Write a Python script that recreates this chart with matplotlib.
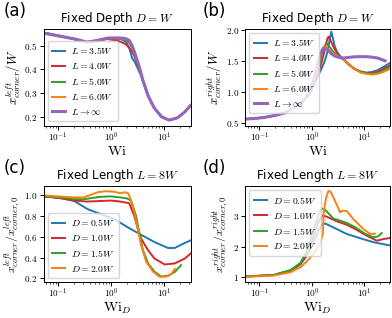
import numpy as np
import matplotlib
matplotlib.use("Agg")
import matplotlib.pyplot as plt
from matplotlib.ticker import FuncFormatter, FixedLocator, LogLocator

plt.rcParams['mathtext.fontset'] = 'cm'
plt.rcParams['font.family'] = ['DejaVu Sans']

# ---------------- data: panel (a) ----------------
wi_a = [0.053, 0.08, 0.12, 0.2, 0.35, 0.55, 0.85, 1.3, 1.6, 1.9, 2.2, 2.5, 2.8, 3.2, 3.6, 4.0,
        5.0, 6.5, 9.0, 12.5, 18.0, 25.0, 31.6]
a_L35 = [0.556, 0.548, 0.540, 0.528, 0.516, 0.521, 0.530, 0.530, 0.526, 0.517, 0.490, 0.447, 0.432,
         0.403, 0.378, 0.350, 0.289, 0.238, 0.200, 0.186, 0.196, 0.222, 0.248]
a_L40 = [0.555, 0.547, 0.539, 0.528, 0.515, 0.521, 0.528, 0.522, 0.514, 0.506, 0.492, 0.475, 0.452,
         0.415, 0.385, 0.350, 0.289, 0.238, 0.200, 0.186, 0.196, 0.222, 0.248]
a_L50 = [0.554, 0.546, 0.538, 0.529, 0.515, 0.522, 0.532, 0.531, 0.528, 0.522, 0.512, 0.490, 0.463,
         0.425, 0.390, 0.352, 0.289, 0.238, 0.200, 0.186, 0.196, 0.222, 0.248]
a_L60 = [0.554, 0.546, 0.538, 0.529, 0.515, 0.522, 0.532, 0.532, 0.531, 0.528, 0.520, 0.497, 0.468,
         0.428, 0.391, 0.353, 0.289, 0.238, 0.200, 0.186, 0.196, 0.222, 0.248]
a_Linf = [0.553, 0.545, 0.538, 0.529, 0.515, 0.522, 0.532, 0.533, 0.532, 0.530, 0.522, 0.500, 0.470,
          0.430, 0.392, 0.353, 0.289, 0.238, 0.200, 0.186, 0.196, 0.222, 0.248]

# ---------------- data: panel (b) ----------------
wi_b_L35 = [0.053, 0.08, 0.12, 0.2, 0.3, 0.45, 0.6, 0.75, 0.9, 1.05, 1.2, 1.35, 1.5, 1.65, 1.8,
            2.0, 2.2, 2.35, 2.5, 2.7, 3.0, 3.5, 4.0, 5.0, 6.5, 8.5, 11, 14, 18, 23, 31.6]
b_L35 = [0.56, 0.57, 0.585, 0.62, 0.66, 0.74, 0.81, 0.89, 0.97, 1.08, 1.18, 1.28, 1.36, 1.44, 1.52,
         1.66, 1.85, 1.97, 1.88, 1.75, 1.65, 1.57, 1.52, 1.44, 1.37, 1.33, 1.31, 1.32, 1.35, 1.40, 1.47]
wi_b_L40 = [0.053, 0.08, 0.12, 0.2, 0.3, 0.45, 0.6, 0.75, 0.9, 1.05, 1.2, 1.35, 1.5, 1.65, 1.8,
            2.0, 2.1, 2.3, 2.6, 3.0, 3.5, 4.0, 5.0, 6.5, 8.5, 11, 14, 18, 23, 31.6]
b_L40 = [0.56, 0.57, 0.585, 0.62, 0.66, 0.74, 0.81, 0.89, 0.98, 1.10, 1.22, 1.33, 1.45, 1.58, 1.72,
         1.87, 1.89, 1.82, 1.72, 1.63, 1.57, 1.53, 1.45, 1.37, 1.32, 1.30, 1.30, 1.32, 1.37, 1.43]
wi_b_L50 = [0.053, 0.08, 0.12, 0.2, 0.3, 0.45, 0.6, 0.75, 0.9, 1.05, 1.2, 1.35, 1.5, 1.65, 1.8,
            1.95, 2.2, 2.6, 3.0, 3.5, 4.0, 5.0, 6.5, 8.5, 11, 14, 18, 23, 31.6]
b_L50 = [0.56, 0.57, 0.585, 0.62, 0.66, 0.74, 0.81, 0.89, 0.99, 1.13, 1.27, 1.42, 1.56, 1.68, 1.76,
         1.78, 1.72, 1.64, 1.60, 1.56, 1.53, 1.45, 1.37, 1.32, 1.30, 1.29, 1.30, 1.34, 1.40]
wi_b_L60 = [0.053, 0.08, 0.12, 0.2, 0.3, 0.45, 0.6, 0.75, 0.9, 1.05, 1.2, 1.35, 1.5, 1.65, 1.75,
            2.0, 2.4, 3.0, 3.5, 4.0, 5.0, 6.5, 8.5, 11, 14, 18, 23, 31.6]
b_L60 = [0.56, 0.57, 0.585, 0.62, 0.66, 0.74, 0.81, 0.89, 0.99, 1.14, 1.30, 1.47, 1.62, 1.72, 1.74,
         1.70, 1.64, 1.58, 1.555, 1.53, 1.45, 1.37, 1.31, 1.29, 1.28, 1.29, 1.32, 1.37]
wi_b_Linf = [0.053, 0.08, 0.12, 0.2, 0.3, 0.45, 0.6, 0.75, 0.9, 1.05, 1.2, 1.35, 1.5, 1.65, 1.8,
             2.0, 2.2, 2.4, 2.7, 3.0, 3.5, 4.0, 5.0, 6.5, 8.5, 11, 14, 18, 25]
b_Linf = [0.56, 0.57, 0.585, 0.62, 0.66, 0.74, 0.81, 0.89, 0.98, 1.15, 1.34, 1.52, 1.64, 1.70, 1.70,
          1.68, 1.64, 1.61, 1.58, 1.565, 1.55, 1.545, 1.555, 1.565, 1.568, 1.567, 1.56, 1.545, 1.50]

# ---------------- data: panel (c) ----------------
wi_c_D05 = [0.053, 0.11, 0.2, 0.36, 0.64, 1.15, 2.06, 3.7, 6.6, 11.9, 15.9, 23, 31.6]
c_D05 = [0.99, 0.978, 0.946, 0.867, 0.819, 0.771, 0.692, 0.619, 0.549, 0.492, 0.492, 0.533, 0.565]
wi_c_D10 = [0.053, 0.1, 0.2, 0.35, 0.6, 1.0, 1.5, 2.2, 2.75, 3.2, 3.7, 5.0, 6.6, 10.3, 15.9, 24.7, 31.6]
c_D10 = [0.99, 0.975, 0.95, 0.94, 0.945, 0.95, 0.94, 0.924, 0.80, 0.676, 0.581, 0.47, 0.39, 0.333,
         0.343, 0.39, 0.438]
wi_c_D15 = [0.053, 0.1, 0.2, 0.3, 0.6, 1.0, 1.5, 2.0, 2.38, 2.97, 3.43, 4.0, 5.0, 6.6, 8.9, 11.9,
            15.9, 21]
c_D15 = [0.99, 0.98, 0.965, 0.962, 0.985, 0.99, 0.98, 0.97, 0.95, 0.80, 0.629, 0.47, 0.343, 0.263,
         0.216, 0.225, 0.26, 0.327]
wi_c_D20 = [0.053, 0.1, 0.2, 0.3, 0.56, 0.8, 1.15, 1.5, 1.8, 2.1, 2.31, 2.75, 3.2, 3.7, 4.6, 6.2,
            8.2, 11, 13.8, 16]
c_D20 = [1.0, 0.99, 0.98, 0.98, 1.03, 1.04, 1.035, 1.02, 1.03, 1.02, 0.97, 0.835, 0.676, 0.517,
         0.359, 0.263, 0.216, 0.216, 0.24, 0.29]

# ---------------- data: panel (d) ----------------
wi_d_D05 = [0.053, 0.186, 0.39, 0.6, 0.8, 1.07, 1.34, 1.55, 1.79, 2.58, 4.6, 8.3, 14.9, 31.6]
d_D05 = [1.03, 1.08, 1.22, 1.42, 1.70, 2.13, 2.52, 2.72, 2.76, 2.63, 2.42, 2.28, 2.15, 2.04]
wi_d_D10 = [0.053, 0.186, 0.39, 0.6, 0.8, 1.07, 1.34, 1.6, 1.93, 3.0, 4.6, 6.7, 11.2, 17.3, 23, 31.6]
d_D10 = [1.03, 1.08, 1.23, 1.44, 1.76, 2.33, 2.82, 3.02, 2.98, 2.83, 2.72, 2.58, 2.36, 2.20, 2.25, 2.29]
wi_d_D15 = [0.053, 0.186, 0.39, 0.6, 0.8, 1.07, 1.34, 1.55, 1.8, 2.58, 3.46, 4.6, 6.7, 10.5, 14.9,
            18.5, 21.5]
d_D15 = [1.03, 1.08, 1.24, 1.47, 1.85, 2.55, 3.05, 3.25, 3.20, 2.92, 2.85, 2.78, 2.64, 2.42, 2.31,
         2.34, 2.45]
wi_d_D20 = [0.053, 0.186, 0.39, 0.6, 0.8, 1.07, 1.44, 1.62, 1.68, 1.87, 2.07, 2.29, 2.78, 3.46, 3.7,
            4.6, 6.2, 9.6, 12.9, 16]
d_D20 = [1.02, 1.06, 1.17, 1.33, 1.52, 1.77, 2.10, 2.42, 3.10, 3.60, 3.82, 3.79, 3.49, 3.12, 3.17,
         3.17, 2.90, 2.58, 2.42, 2.43]

L_labels = [r'$L=3.5W$', r'$L=4.0W$', r'$L=5.0W$', r'$L=6.0W$', r'$L\to\infty$']
D_labels = [r'$D=0.5W$', r'$D=1.0W$', r'$D=1.5W$', r'$D=2.0W$']
colors = ['tab:blue', 'tab:red', 'tab:green', 'tab:orange', 'tab:purple']

fig = plt.figure(figsize=(3.92, 3.18), dpi=100)
ax_a = fig.add_axes([0.111, 0.605, 0.375, 0.305])
ax_b = fig.add_axes([0.625, 0.605, 0.371, 0.305])
ax_c = fig.add_axes([0.111, 0.112, 0.375, 0.303])
ax_d = fig.add_axes([0.625, 0.112, 0.371, 0.303])

# (a)
for y, c, lab in zip([a_L35, a_L40, a_L50, a_L60, a_Linf], colors, L_labels):
    lw = 2.2 if c == 'tab:purple' else 1.4
    ax_a.plot(wi_a, y, color=c, lw=lw, label=lab)
# (b)
for x, y, c, lab in zip([wi_b_L35, wi_b_L40, wi_b_L50, wi_b_L60, wi_b_Linf],
                        [b_L35, b_L40, b_L50, b_L60, b_Linf], colors, L_labels):
    lw = 2.2 if c == 'tab:purple' else 1.4
    ax_b.plot(x, y, color=c, lw=lw, label=lab)
# (c)
for x, y, c, lab in zip([wi_c_D05, wi_c_D10, wi_c_D15, wi_c_D20],
                        [c_D05, c_D10, c_D15, c_D20], colors, D_labels):
    ax_c.plot(x, y, color=c, lw=1.4, label=lab)
# (d)
for x, y, c, lab in zip([wi_d_D05, wi_d_D10, wi_d_D15, wi_d_D20],
                        [d_D05, d_D10, d_D15, d_D20], colors, D_labels):
    ax_d.plot(x, y, color=c, lw=1.4, label=lab)

logfmt = FuncFormatter(lambda v, p: r'$10^{%d}$' % int(round(np.log10(v))))
fmt1 = FuncFormatter(lambda v, p: r'$%.1f$' % v)
fmt0 = FuncFormatter(lambda v, p: r'$%d$' % int(round(v)))

for ax in [ax_a, ax_b, ax_c, ax_d]:
    ax.set_xscale('log')
    ax.set_xlim(0.053, 31.6)
    ax.xaxis.set_major_locator(FixedLocator([0.1, 1, 10]))
    ax.xaxis.set_minor_locator(LogLocator(base=10, subs=np.arange(2, 10)))
    ax.xaxis.set_major_formatter(logfmt)
    ax.xaxis.set_minor_formatter(FuncFormatter(lambda v, p: ''))
    ax.tick_params(labelsize=6.6, pad=1.5, length=2.8, width=0.7)
    ax.tick_params(axis='x', pad=0.5)
    ax.tick_params(which='minor', length=1.7, width=0.5)
    for s in ax.spines.values():
        s.set_linewidth(0.7)

ax_a.set_ylim(0.163, 0.572)
ax_a.set_yticks([0.2, 0.3, 0.4, 0.5])
ax_a.yaxis.set_major_formatter(fmt1)
ax_b.set_ylim(0.455, 2.02)
ax_b.set_yticks([0.5, 1.0, 1.5, 2.0])
ax_b.yaxis.set_major_formatter(fmt1)
ax_c.set_ylim(0.16, 1.09)
ax_c.set_yticks([0.2, 0.4, 0.6, 0.8, 1.0])
ax_c.yaxis.set_major_formatter(fmt1)
ax_d.set_ylim(0.84, 3.98)
ax_d.set_yticks([1, 2, 3])
ax_d.yaxis.set_major_formatter(fmt0)

tfs = 8.6
ax_a.set_title(r'Fixed Depth $D=W$', fontsize=tfs, pad=5)
ax_b.set_title(r'Fixed Depth $D=W$', fontsize=tfs, pad=5)
ax_c.set_title(r'Fixed Length $L=8W$', fontsize=tfs, pad=5)
ax_d.set_title(r'Fixed Length $L=8W$', fontsize=tfs, pad=5)

xfs = 10
ax_a.set_xlabel(r'$\mathrm{Wi}$', fontsize=xfs, labelpad=0.5)
ax_b.set_xlabel(r'$\mathrm{Wi}$', fontsize=xfs, labelpad=0.5)
ax_c.set_xlabel(r'$\mathrm{Wi}_D$', fontsize=xfs, labelpad=0.5)
ax_d.set_xlabel(r'$\mathrm{Wi}_D$', fontsize=xfs, labelpad=0.5)

ax_a.set_ylabel(r'$x^{left}_{corner}/W$', fontsize=9.2, labelpad=1)
ax_b.set_ylabel(r'$x^{right}_{corner}/W$', fontsize=9.2, labelpad=1)
ax_c.set_ylabel(r'$x^{left}_{corner}/x^{left}_{corner,0}$', fontsize=8.5, labelpad=1)
ax_d.set_ylabel(r'$x^{right}_{corner}/x^{right}_{corner,0}$', fontsize=8.5, labelpad=1)

leg_kw = dict(fontsize=7, handlelength=1.35, labelspacing=0.5, borderpad=0.45,
              handletextpad=0.6, borderaxespad=0.45)
ax_a.legend(loc='lower left', **leg_kw)
ax_b.legend(loc='upper left', **leg_kw)
ax_c.legend(loc='lower left', **leg_kw)
ax_d.legend(loc='upper left', **leg_kw)

fig.text(0.008, 0.995, '(a)', fontsize=12, va='top', ha='left')
fig.text(0.518, 0.995, '(b)', fontsize=12, va='top', ha='left')
fig.text(0.008, 0.50, '(c)', fontsize=12, va='top', ha='left')
fig.text(0.518, 0.50, '(d)', fontsize=12, va='top', ha='left')

fig.savefig('out.png', dpi=100)
